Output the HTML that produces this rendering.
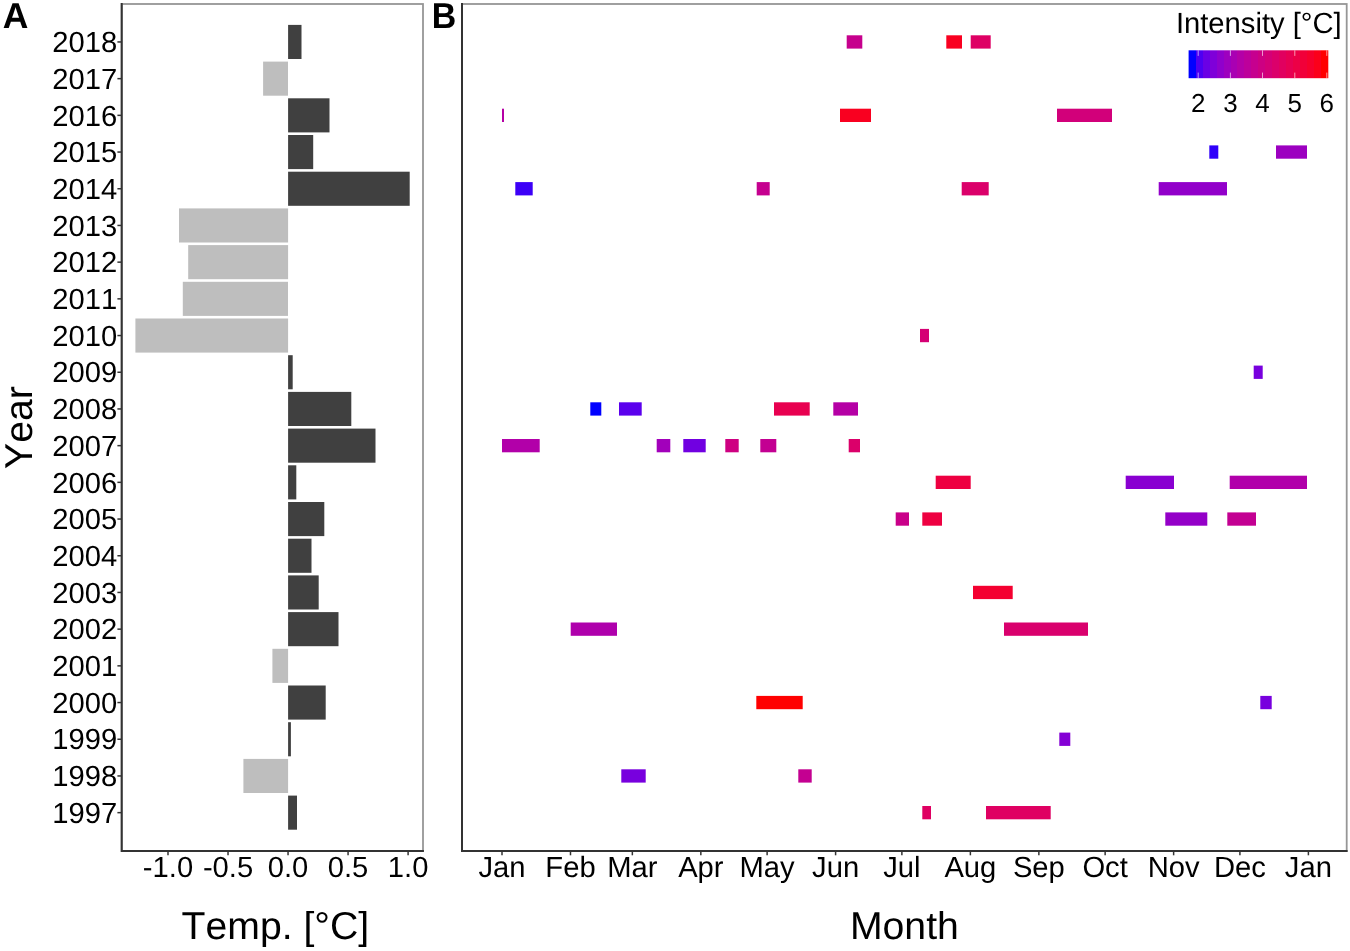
<!DOCTYPE html>
<html lang="en">
<head>
<meta charset="utf-8">
<title>Figure: temperature anomaly and marine heatwave intensity</title>
<style>
html,body{margin:0;padding:0;background:#fff;}
body{width:1350px;height:951px;overflow:hidden;}
svg{display:block;}
svg text{font-family:"Liberation Sans", sans-serif;fill:#000;font-kerning:none;text-rendering:geometricPrecision;}
.tk{font-size:29.2px;}
.ti{font-size:38.8px;}
.pl{font-size:35.5px;font-weight:bold;}
.lt{font-size:29.2px;}
.ll{font-size:26px;}
</style>
</head>
<body>
<svg width="1350" height="951" viewBox="0 0 1350 951">
<defs><linearGradient id="cb" x1="0" y1="0" x2="1" y2="0">
<stop offset="0.0000" stop-color="#0000FF"/><stop offset="0.0500" stop-color="#0000FF"/>
<stop offset="0.0500" stop-color="#4D00F2"/><stop offset="0.1000" stop-color="#4D00F2"/>
<stop offset="0.1000" stop-color="#6A00E5"/><stop offset="0.1500" stop-color="#6A00E5"/>
<stop offset="0.1500" stop-color="#7F00D9"/><stop offset="0.2000" stop-color="#7F00D9"/>
<stop offset="0.2000" stop-color="#9000CC"/><stop offset="0.2500" stop-color="#9000CC"/>
<stop offset="0.2500" stop-color="#9E00BF"/><stop offset="0.3000" stop-color="#9E00BF"/>
<stop offset="0.3000" stop-color="#A900B3"/><stop offset="0.3500" stop-color="#A900B3"/>
<stop offset="0.3500" stop-color="#B400A7"/><stop offset="0.4000" stop-color="#B400A7"/>
<stop offset="0.4000" stop-color="#BD009B"/><stop offset="0.4500" stop-color="#BD009B"/>
<stop offset="0.4500" stop-color="#C6008F"/><stop offset="0.5000" stop-color="#C6008F"/>
<stop offset="0.5000" stop-color="#CD0082"/><stop offset="0.5500" stop-color="#CD0082"/>
<stop offset="0.5500" stop-color="#D40077"/><stop offset="0.6000" stop-color="#D40077"/>
<stop offset="0.6000" stop-color="#DB006B"/><stop offset="0.6500" stop-color="#DB006B"/>
<stop offset="0.6500" stop-color="#E1005F"/><stop offset="0.7000" stop-color="#E1005F"/>
<stop offset="0.7000" stop-color="#E70053"/><stop offset="0.7500" stop-color="#E70053"/>
<stop offset="0.7500" stop-color="#EC0046"/><stop offset="0.8000" stop-color="#EC0046"/>
<stop offset="0.8000" stop-color="#F10039"/><stop offset="0.8500" stop-color="#F10039"/>
<stop offset="0.8500" stop-color="#F6002C"/><stop offset="0.9000" stop-color="#F6002C"/>
<stop offset="0.9000" stop-color="#FB001B"/><stop offset="0.9500" stop-color="#FB001B"/>
<stop offset="0.9500" stop-color="#FF0000"/><stop offset="1.0000" stop-color="#FF0000"/>
</linearGradient></defs>
<rect x="0" y="0" width="1350" height="951" fill="#ffffff"/>
<g id="panelA">
<rect x="121.70" y="4.00" width="301.30" height="847.00" fill="none" stroke="#969696" stroke-width="1.8"/>
<rect x="288.1" y="24.90" width="13.4" height="34.1" fill="#404040"/>
<rect x="263.1" y="61.60" width="24.9" height="34.1" fill="#bebebe"/>
<rect x="288.1" y="98.30" width="41.4" height="34.1" fill="#404040"/>
<rect x="288.1" y="135.00" width="25.1" height="34.1" fill="#404040"/>
<rect x="288.1" y="171.70" width="121.6" height="34.1" fill="#404040"/>
<rect x="179.0" y="208.40" width="109.1" height="34.1" fill="#bebebe"/>
<rect x="188.2" y="245.10" width="99.9" height="34.1" fill="#bebebe"/>
<rect x="182.8" y="281.80" width="105.2" height="34.1" fill="#bebebe"/>
<rect x="135.4" y="318.50" width="152.7" height="34.1" fill="#bebebe"/>
<rect x="288.1" y="355.20" width="4.6" height="34.1" fill="#404040"/>
<rect x="288.1" y="391.90" width="63.2" height="34.1" fill="#404040"/>
<rect x="288.1" y="428.60" width="87.4" height="34.1" fill="#404040"/>
<rect x="288.1" y="465.30" width="8.2" height="34.1" fill="#404040"/>
<rect x="288.1" y="502.00" width="36.2" height="34.1" fill="#404040"/>
<rect x="288.1" y="538.70" width="23.4" height="34.1" fill="#404040"/>
<rect x="288.1" y="575.40" width="30.6" height="34.1" fill="#404040"/>
<rect x="288.1" y="612.10" width="50.4" height="34.1" fill="#404040"/>
<rect x="272.4" y="648.80" width="15.7" height="34.1" fill="#bebebe"/>
<rect x="288.1" y="685.50" width="37.6" height="34.1" fill="#404040"/>
<rect x="288.1" y="722.20" width="2.8" height="34.1" fill="#404040"/>
<rect x="243.4" y="758.90" width="44.7" height="34.1" fill="#bebebe"/>
<rect x="288.1" y="795.60" width="8.9" height="34.1" fill="#404040"/>
<path d="M121.70 3.10 V851.00 H423.90" fill="none" stroke="#333333" stroke-width="2"/>
<path d="M117.40 812.65 H121.70" stroke="#333333" stroke-width="1.5"/>
<text class="tk" x="117.2" y="822.85" text-anchor="end">1997</text>
<path d="M117.40 775.95 H121.70" stroke="#333333" stroke-width="1.5"/>
<text class="tk" x="117.2" y="786.15" text-anchor="end">1998</text>
<path d="M117.40 739.25 H121.70" stroke="#333333" stroke-width="1.5"/>
<text class="tk" x="117.2" y="749.45" text-anchor="end">1999</text>
<path d="M117.40 702.55 H121.70" stroke="#333333" stroke-width="1.5"/>
<text class="tk" x="117.2" y="712.75" text-anchor="end">2000</text>
<path d="M117.40 665.85 H121.70" stroke="#333333" stroke-width="1.5"/>
<text class="tk" x="117.2" y="676.05" text-anchor="end">2001</text>
<path d="M117.40 629.15 H121.70" stroke="#333333" stroke-width="1.5"/>
<text class="tk" x="117.2" y="639.35" text-anchor="end">2002</text>
<path d="M117.40 592.45 H121.70" stroke="#333333" stroke-width="1.5"/>
<text class="tk" x="117.2" y="602.65" text-anchor="end">2003</text>
<path d="M117.40 555.75 H121.70" stroke="#333333" stroke-width="1.5"/>
<text class="tk" x="117.2" y="565.95" text-anchor="end">2004</text>
<path d="M117.40 519.05 H121.70" stroke="#333333" stroke-width="1.5"/>
<text class="tk" x="117.2" y="529.25" text-anchor="end">2005</text>
<path d="M117.40 482.35 H121.70" stroke="#333333" stroke-width="1.5"/>
<text class="tk" x="117.2" y="492.55" text-anchor="end">2006</text>
<path d="M117.40 445.65 H121.70" stroke="#333333" stroke-width="1.5"/>
<text class="tk" x="117.2" y="455.85" text-anchor="end">2007</text>
<path d="M117.40 408.95 H121.70" stroke="#333333" stroke-width="1.5"/>
<text class="tk" x="117.2" y="419.15" text-anchor="end">2008</text>
<path d="M117.40 372.25 H121.70" stroke="#333333" stroke-width="1.5"/>
<text class="tk" x="117.2" y="382.45" text-anchor="end">2009</text>
<path d="M117.40 335.55 H121.70" stroke="#333333" stroke-width="1.5"/>
<text class="tk" x="117.2" y="345.75" text-anchor="end">2010</text>
<path d="M117.40 298.85 H121.70" stroke="#333333" stroke-width="1.5"/>
<text class="tk" x="117.2" y="309.05" text-anchor="end">2011</text>
<path d="M117.40 262.15 H121.70" stroke="#333333" stroke-width="1.5"/>
<text class="tk" x="117.2" y="272.35" text-anchor="end">2012</text>
<path d="M117.40 225.45 H121.70" stroke="#333333" stroke-width="1.5"/>
<text class="tk" x="117.2" y="235.65" text-anchor="end">2013</text>
<path d="M117.40 188.75 H121.70" stroke="#333333" stroke-width="1.5"/>
<text class="tk" x="117.2" y="198.95" text-anchor="end">2014</text>
<path d="M117.40 152.05 H121.70" stroke="#333333" stroke-width="1.5"/>
<text class="tk" x="117.2" y="162.25" text-anchor="end">2015</text>
<path d="M117.40 115.35 H121.70" stroke="#333333" stroke-width="1.5"/>
<text class="tk" x="117.2" y="125.55" text-anchor="end">2016</text>
<path d="M117.40 78.65 H121.70" stroke="#333333" stroke-width="1.5"/>
<text class="tk" x="117.2" y="88.85" text-anchor="end">2017</text>
<path d="M117.40 41.95 H121.70" stroke="#333333" stroke-width="1.5"/>
<text class="tk" x="117.2" y="52.15" text-anchor="end">2018</text>
<path d="M168.00 851.00 V855.30" stroke="#333333" stroke-width="1.5"/>
<text class="tk" x="168.00" y="876.8" text-anchor="middle">-1.0</text>
<path d="M228.03 851.00 V855.30" stroke="#333333" stroke-width="1.5"/>
<text class="tk" x="228.03" y="876.8" text-anchor="middle">-0.5</text>
<path d="M288.05 851.00 V855.30" stroke="#333333" stroke-width="1.5"/>
<text class="tk" x="288.05" y="876.8" text-anchor="middle">0.0</text>
<path d="M348.07 851.00 V855.30" stroke="#333333" stroke-width="1.5"/>
<text class="tk" x="348.07" y="876.8" text-anchor="middle">0.5</text>
<path d="M408.10 851.00 V855.30" stroke="#333333" stroke-width="1.5"/>
<text class="tk" x="408.10" y="876.8" text-anchor="middle">1.0</text>
<text class="ti" transform="translate(275.35 939) scale(1.01 1)" text-anchor="middle">Temp. [°C]</text>
<text class="ti" transform="translate(31.5 427.50) rotate(-90) scale(1.01 1)" text-anchor="middle">Year</text>
<text class="pl" transform="translate(2.8 28) scale(1 1.015)">A</text>
</g>
<g id="panelB">
<rect x="462.00" y="4.00" width="884.70" height="847.00" fill="none" stroke="#969696" stroke-width="1.8"/>
<rect x="846.7" y="35.30" width="15.6" height="13.3" fill="#C6008D"/>
<rect x="946.3" y="35.30" width="15.7" height="13.3" fill="#F90020"/>
<rect x="970.7" y="35.30" width="20.0" height="13.3" fill="#DE0064"/>
<rect x="502.0" y="108.70" width="2.0" height="13.3" fill="#B500A5"/>
<rect x="840.0" y="108.70" width="31.0" height="13.3" fill="#F90020"/>
<rect x="1057.0" y="108.70" width="55.0" height="13.3" fill="#D2007A"/>
<rect x="1209.3" y="145.40" width="9.0" height="13.3" fill="#2F00FA"/>
<rect x="1276.0" y="145.40" width="31.0" height="13.3" fill="#9C00C0"/>
<rect x="515.3" y="182.10" width="17.4" height="13.3" fill="#3C00F7"/>
<rect x="756.7" y="182.10" width="13.0" height="13.3" fill="#C5008F"/>
<rect x="961.7" y="182.10" width="27.0" height="13.3" fill="#DB006A"/>
<rect x="1158.7" y="182.10" width="68.3" height="13.3" fill="#9200CA"/>
<rect x="920.0" y="328.90" width="9.0" height="13.3" fill="#D50074"/>
<rect x="1253.7" y="365.60" width="9.0" height="13.3" fill="#7800DE"/>
<rect x="590.3" y="402.30" width="11.0" height="13.3" fill="#0000FF"/>
<rect x="619.0" y="402.30" width="22.7" height="13.3" fill="#5B00ED"/>
<rect x="774.0" y="402.30" width="35.7" height="13.3" fill="#E80050"/>
<rect x="833.3" y="402.30" width="24.7" height="13.3" fill="#B500A5"/>
<rect x="502.0" y="439.00" width="37.7" height="13.3" fill="#B200A9"/>
<rect x="656.7" y="439.00" width="13.6" height="13.3" fill="#A200BB"/>
<rect x="683.3" y="439.00" width="22.4" height="13.3" fill="#7100E1"/>
<rect x="725.3" y="439.00" width="13.4" height="13.3" fill="#CE0081"/>
<rect x="760.3" y="439.00" width="16.0" height="13.3" fill="#C30092"/>
<rect x="848.7" y="439.00" width="11.3" height="13.3" fill="#DB006A"/>
<rect x="935.7" y="475.70" width="35.0" height="13.3" fill="#EE0041"/>
<rect x="1125.7" y="475.70" width="48.3" height="13.3" fill="#8900D1"/>
<rect x="1229.7" y="475.70" width="77.3" height="13.3" fill="#B100AA"/>
<rect x="895.7" y="512.40" width="13.3" height="13.3" fill="#C90089"/>
<rect x="922.3" y="512.40" width="19.7" height="13.3" fill="#EE0041"/>
<rect x="1165.3" y="512.40" width="42.0" height="13.3" fill="#9400C8"/>
<rect x="1227.3" y="512.40" width="28.7" height="13.3" fill="#C30092"/>
<rect x="973.0" y="585.80" width="39.7" height="13.3" fill="#F40030"/>
<rect x="570.7" y="622.50" width="46.3" height="13.3" fill="#AF00AC"/>
<rect x="1004.0" y="622.50" width="84.0" height="13.3" fill="#D9006D"/>
<rect x="756.3" y="695.90" width="46.4" height="13.3" fill="#FF0000"/>
<rect x="1260.3" y="695.90" width="11.4" height="13.3" fill="#7800DE"/>
<rect x="1059.3" y="732.60" width="11.0" height="13.3" fill="#8400D5"/>
<rect x="621.3" y="769.30" width="24.4" height="13.3" fill="#7800DE"/>
<rect x="798.3" y="769.30" width="13.4" height="13.3" fill="#C40091"/>
<rect x="922.3" y="806.00" width="8.7" height="13.3" fill="#DF0062"/>
<rect x="986.0" y="806.00" width="64.7" height="13.3" fill="#DF0062"/>
<path d="M462.00 3.10 V851.00 H1347.60" fill="none" stroke="#333333" stroke-width="2"/>
<path d="M502.00 851.00 V855.30" stroke="#333333" stroke-width="1.5"/>
<text class="tk" x="502.00" y="876.8" text-anchor="middle">Jan</text>
<path d="M570.49 851.00 V855.30" stroke="#333333" stroke-width="1.5"/>
<text class="tk" x="570.49" y="876.8" text-anchor="middle">Feb</text>
<path d="M632.35 851.00 V855.30" stroke="#333333" stroke-width="1.5"/>
<text class="tk" x="632.35" y="876.8" text-anchor="middle">Mar</text>
<path d="M700.84 851.00 V855.30" stroke="#333333" stroke-width="1.5"/>
<text class="tk" x="700.84" y="876.8" text-anchor="middle">Apr</text>
<path d="M767.12 851.00 V855.30" stroke="#333333" stroke-width="1.5"/>
<text class="tk" x="767.12" y="876.8" text-anchor="middle">May</text>
<path d="M835.60 851.00 V855.30" stroke="#333333" stroke-width="1.5"/>
<text class="tk" x="835.60" y="876.8" text-anchor="middle">Jun</text>
<path d="M901.88 851.00 V855.30" stroke="#333333" stroke-width="1.5"/>
<text class="tk" x="901.88" y="876.8" text-anchor="middle">Jul</text>
<path d="M970.37 851.00 V855.30" stroke="#333333" stroke-width="1.5"/>
<text class="tk" x="970.37" y="876.8" text-anchor="middle">Aug</text>
<path d="M1038.86 851.00 V855.30" stroke="#333333" stroke-width="1.5"/>
<text class="tk" x="1038.86" y="876.8" text-anchor="middle">Sep</text>
<path d="M1105.14 851.00 V855.30" stroke="#333333" stroke-width="1.5"/>
<text class="tk" x="1105.14" y="876.8" text-anchor="middle">Oct</text>
<path d="M1173.63 851.00 V855.30" stroke="#333333" stroke-width="1.5"/>
<text class="tk" x="1173.63" y="876.8" text-anchor="middle">Nov</text>
<path d="M1239.91 851.00 V855.30" stroke="#333333" stroke-width="1.5"/>
<text class="tk" x="1239.91" y="876.8" text-anchor="middle">Dec</text>
<path d="M1308.39 851.00 V855.30" stroke="#333333" stroke-width="1.5"/>
<text class="tk" x="1308.39" y="876.8" text-anchor="middle">Jan</text>
<text class="ti" transform="translate(904.35 939.2) scale(1.01 1)" text-anchor="middle">Month</text>
<text class="pl" transform="translate(431.7 28) scale(0.955 1.015)">B</text>
<text class="lt" x="1341.7" y="33.1" text-anchor="end">Intensity [°C]</text>
<rect x="1188.6" y="50.3" width="139.7" height="27.9" fill="url(#cb)"/>
<path d="M1198.2 50.3 v5.6 M1198.2 78.2 v-5.6" stroke="#ffffff" stroke-opacity="0.6" stroke-width="1"/>
<text class="ll" x="1198.2" y="111.7" text-anchor="middle">2</text>
<path d="M1230.4 50.3 v5.6 M1230.4 78.2 v-5.6" stroke="#ffffff" stroke-opacity="0.6" stroke-width="1"/>
<text class="ll" x="1230.4" y="111.7" text-anchor="middle">3</text>
<path d="M1262.5 50.3 v5.6 M1262.5 78.2 v-5.6" stroke="#ffffff" stroke-opacity="0.6" stroke-width="1"/>
<text class="ll" x="1262.5" y="111.7" text-anchor="middle">4</text>
<path d="M1294.8 50.3 v5.6 M1294.8 78.2 v-5.6" stroke="#ffffff" stroke-opacity="0.6" stroke-width="1"/>
<text class="ll" x="1294.8" y="111.7" text-anchor="middle">5</text>
<path d="M1326.8 50.3 v5.6 M1326.8 78.2 v-5.6" stroke="#ffffff" stroke-opacity="0.6" stroke-width="1"/>
<text class="ll" x="1326.8" y="111.7" text-anchor="middle">6</text>
</g>
</svg>
</body>
</html>
